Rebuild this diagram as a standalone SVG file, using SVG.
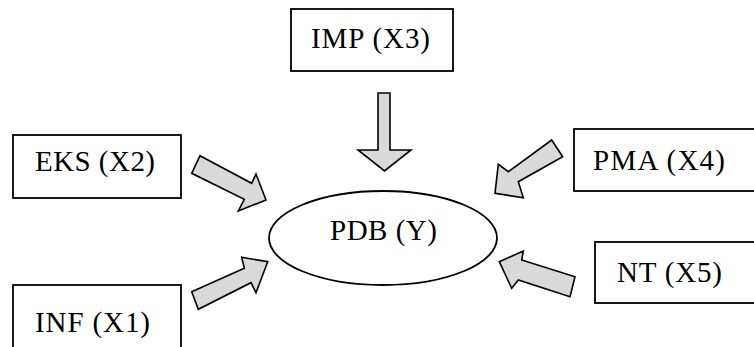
<svg xmlns="http://www.w3.org/2000/svg" width="754" height="347" viewBox="0 0 754 347">
<style>
.box{fill:#fff;stroke:#000;stroke-width:1.8}
.arr{fill:#d9d9d9;stroke:#000;stroke-width:1.6;stroke-linejoin:miter}
.lbl{font-family:"Liberation Serif","Times New Roman",serif;font-size:29px;fill:#000}
</style>
<rect width="754" height="347" fill="#fff"/>
<g id="connectors">
<polygon class="arr" points="378,93 390,93 390,150 411,150 384.5,171 358,150 378,150"/>
<polygon class="arr" points="200,155.7 251.7,183.3 256,174 266,200 238.3,211 244.3,199.3 191.7,173.3"/>
<polygon class="arr" points="191.7,291.7 244.3,268.3 241.7,257.3 267.7,261.7 256,292.7 251,282.7 198.3,309.3"/>
<polygon class="arr" points="551.7,140 562.7,156.7 518.3,181.7 523.3,197.7 495,193.3 498.3,164.3 508.3,171.7"/>
<polygon class="arr" points="499.3,261.7 523.3,251 521.7,260 575,276.7 570,296.7 518.3,280 511.7,288.3"/>
</g>
<g id="imp"><rect class="box" x="291" y="9" width="162" height="62"/><text class="lbl" x="311" y="48" textLength="119">IMP (X3)</text></g>
<g id="eks"><rect class="box" x="13" y="135" width="168" height="63"/><text class="lbl" x="35" y="171" textLength="120">EKS (X2)</text></g>
<g id="pma"><rect class="box" x="574" y="129" width="190" height="62"/><text class="lbl" x="593" y="170" textLength="132">PMA (X4)</text></g>
<g id="nt"><rect class="box" x="595" y="242" width="170" height="61"/><text class="lbl" x="617" y="282" textLength="105">NT (X5)</text></g>
<g id="inf"><rect class="box" x="13" y="285" width="168" height="72"/><text class="lbl" x="35" y="332" textLength="115">INF (X1)</text></g>
<g id="pdb"><ellipse class="box" cx="383" cy="238" rx="114" ry="47"/><text class="lbl" x="330" y="240" textLength="107">PDB (Y)</text></g>
</svg>
